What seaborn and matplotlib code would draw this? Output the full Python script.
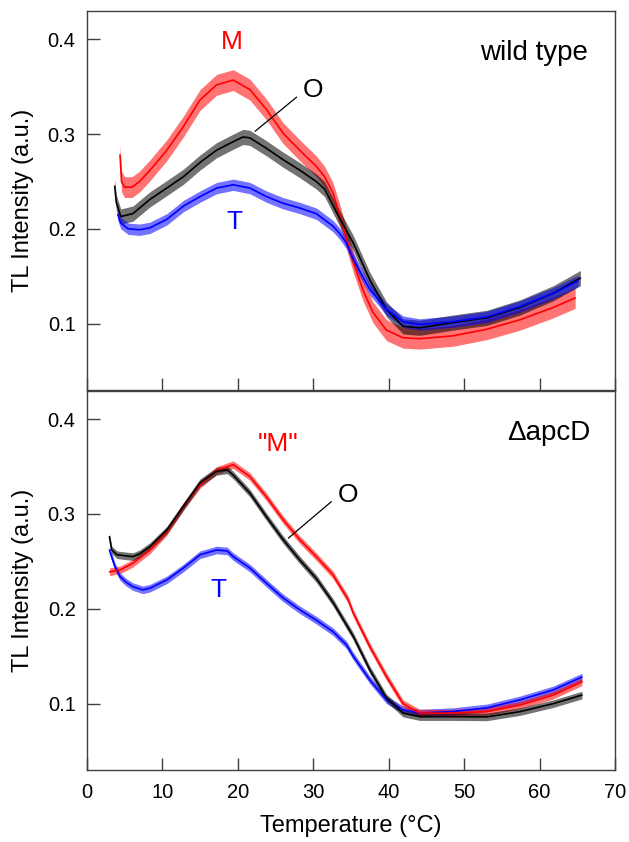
import matplotlib
matplotlib.use("Agg")
import matplotlib.pyplot as plt
import seaborn as sns
import pandas as pd

# ---- data ----
# wild type
wt_red_temp = [4.4, 4.6, 5.0, 6.0, 7.0, 8.4, 10.6, 12.8, 15.0, 17.2, 19.4, 21.6, 23.8, 26.0, 28.2,
               30.4, 31.5, 32.6, 33.5, 34.4, 35.3, 36.6, 37.9, 39.7, 41.9, 44.1, 48.5, 53.0, 57.4, 61.8, 64.7]
wt_red = [0.278, 0.250, 0.244, 0.244, 0.250, 0.262, 0.283, 0.308, 0.336, 0.352, 0.357, 0.347, 0.326, 0.301, 0.283,
          0.266, 0.255, 0.238, 0.215, 0.190, 0.165, 0.135, 0.112, 0.093, 0.085, 0.084, 0.087, 0.094, 0.104, 0.117, 0.127]

wt_black_temp = [3.7, 3.9, 4.5, 6.1, 8.35, 10.6, 12.8, 15.0, 17.2, 19.4, 20.7, 21.6, 23.8, 26.0, 28.2,
                 30.4, 31.5, 33.1, 35.3, 37.5, 39.7, 41.9, 44.1, 48.5, 53.0, 57.4, 61.8, 65.4]
wt_black = [0.245, 0.228, 0.213, 0.216, 0.231, 0.243, 0.255, 0.270, 0.283, 0.292, 0.297, 0.296, 0.285, 0.273, 0.262,
            0.250, 0.242, 0.217, 0.185, 0.146, 0.115, 0.097, 0.0955, 0.101, 0.106, 0.117, 0.132, 0.148]

wt_blue_temp = [4.1, 4.5, 5.5, 7.0, 8.35, 10.6, 12.8, 15.0, 17.2, 19.4, 21.6, 23.8, 26.0, 28.2, 30.4,
                32.6, 33.5, 34.4, 35.3, 36.4, 37.5, 39.7, 41.9, 44.1, 48.5, 53.0, 57.4, 61.8, 65.1]
wt_blue = [0.215, 0.206, 0.200, 0.199, 0.201, 0.210, 0.224, 0.234, 0.243, 0.2465, 0.243, 0.234, 0.227, 0.222, 0.216,
           0.203, 0.195, 0.185, 0.168, 0.152, 0.136, 0.115, 0.102, 0.099, 0.102, 0.107, 0.118, 0.132, 0.145]

# delta apcD
ko_red_temp = [3.0, 4.4, 6.1, 8.35, 10.6, 12.8, 15.0, 17.2, 19.4, 21.6, 23.8, 26.0, 28.2, 30.4, 32.6,
               34.6, 35.3, 37.5, 39.7, 41.9, 44.1, 48.5, 53.0, 57.4, 61.8, 65.6]
ko_red = [0.239, 0.241, 0.248, 0.262, 0.2815, 0.308, 0.331, 0.346, 0.352, 0.3395, 0.318, 0.294, 0.273, 0.255, 0.236,
          0.210, 0.1955, 0.160, 0.1285, 0.100, 0.090, 0.090, 0.0916, 0.0985, 0.109, 0.123]

ko_black_temp = [3.0, 3.3, 4.0, 5.0, 6.1, 7.0, 8.35, 10.6, 12.8, 15.0, 17.2, 18.6, 19.4, 21.6, 23.8,
                 26.0, 28.2, 30.4, 32.6, 34.4, 35.3, 37.5, 39.7, 41.9, 44.1, 48.5, 53.0, 57.4, 61.8, 65.6]
ko_black = [0.276, 0.262, 0.257, 0.256, 0.255, 0.258, 0.2656, 0.283, 0.308, 0.333, 0.345, 0.3465, 0.341, 0.322, 0.297,
            0.273, 0.2516, 0.232, 0.207, 0.183, 0.171, 0.1355, 0.106, 0.090, 0.0863, 0.0863, 0.086, 0.0916, 0.100, 0.109]

ko_blue_temp = [3.0, 3.7, 4.4, 5.2, 6.1, 7.4, 8.35, 10.6, 12.8, 15.0, 17.2, 18.6, 19.4, 21.6, 23.8,
                26.0, 28.2, 30.4, 32.6, 34.4, 35.3, 37.5, 39.7, 41.9, 44.1, 48.5, 53.0, 57.4, 61.8, 65.6]
ko_blue = [0.262, 0.245, 0.234, 0.228, 0.2234, 0.220, 0.2217, 0.2305, 0.243, 0.257, 0.262, 0.261, 0.255, 0.243, 0.227,
           0.2115, 0.199, 0.188, 0.176, 0.162, 0.150, 0.125, 0.104, 0.0935, 0.090, 0.0916, 0.0955, 0.104, 0.1145, 0.128]

x_ticks = [0, 10, 20, 30, 40, 50, 60, 70]
y_ticks = [0.1, 0.2, 0.3, 0.4]

# ---- style ----
sns.set_style("ticks")
plt.rcParams["font.family"] = ["Liberation Sans", "DejaVu Sans"]
plt.rcParams["axes.edgecolor"] = "#404040"
plt.rcParams["axes.linewidth"] = 1.0
plt.rcParams["text.color"] = "black"
plt.rcParams["axes.labelcolor"] = "black"
plt.rcParams["xtick.labelcolor"] = "black"
plt.rcParams["ytick.labelcolor"] = "black"

fig = plt.figure(figsize=(6.29, 8.42), dpi=100)
ax_top = fig.add_axes([0.138, 0.537, 0.840, 0.450])
ax_bot = fig.add_axes([0.138, 0.0855, 0.840, 0.4505])

# noise band half widths (visual only)
panels = [
    (ax_top, [(wt_red_temp, wt_red, "#ff0000", 0.011),
              (wt_black_temp, wt_black, "black", 0.008),
              (wt_blue_temp, wt_blue, "#0000ff", 0.006)]),
    (ax_bot, [(ko_blue_temp, ko_blue, "#0000ff", 0.004),
              (ko_red_temp, ko_red, "#ff0000", 0.004),
              (ko_black_temp, ko_black, "black", 0.004)]),
]

for ax, series in panels:
    for temp, vals, col, w in series:
        df = pd.DataFrame({"temp": temp, "tl": vals})
        ax.fill_between(df["temp"], df["tl"] - w, df["tl"] + w, color=col, alpha=0.55, lw=0)
        sns.lineplot(data=df, x="temp", y="tl", color=col, lw=1.2, ax=ax, estimator=None, sort=False)
    ax.set_xlim(0, 70)
    ax.set_ylim(0.03, 0.43)
    ax.set_xticks(x_ticks)
    ax.set_yticks(y_ticks)
    ax.set_yticklabels([f"{v:.1f}" for v in y_ticks])
    ax.tick_params(direction="in", length=9, width=1, color="#404040", labelcolor="black",
                   labelsize=14.5, pad=8)
    ax.set_ylabel("TL Intensity (a.u.)", fontsize=17, labelpad=10, color="black")
    for s in ax.spines.values():
        s.set_visible(True)

ax_top.set_xlabel("")
ax_top.tick_params(labelbottom=False)
ax_bot.set_xticklabels([str(v) for v in x_ticks])
ax_bot.set_xlabel("Temperature (\u00b0C)", fontsize=17, labelpad=10, color="black")
ax_bot.tick_params(axis="x", pad=9)

# annotations
ax_top.text(0.949, 0.889, "wild type", transform=ax_top.transAxes, ha="right", va="center", fontsize=20)
ax_top.text(19.2, 0.397, "M", color="#ff0000", ha="center", va="center", fontsize=19)
ax_top.text(30.0, 0.347, "O", color="black", ha="center", va="center", fontsize=19)
ax_top.text(19.6, 0.2075, "T", color="#0000ff", ha="center", va="center", fontsize=19)
ax_top.plot([27.8, 22.3], [0.339, 0.303], color="black", lw=0.9)

ax_bot.text(0.953, 0.888, "\u0394apcD", transform=ax_bot.transAxes, ha="right", va="center", fontsize=20)
ax_bot.text(25.3, 0.374, '"M"', color="#ff0000", ha="center", va="center", fontsize=19)
ax_bot.text(34.6, 0.320, "O", color="black", ha="center", va="center", fontsize=19)
ax_bot.text(17.4, 0.220, "T", color="#0000ff", ha="center", va="center", fontsize=19)
ax_bot.plot([32.4, 26.7], [0.313, 0.2745], color="black", lw=0.9)

fig.savefig("out.png", dpi=100)
